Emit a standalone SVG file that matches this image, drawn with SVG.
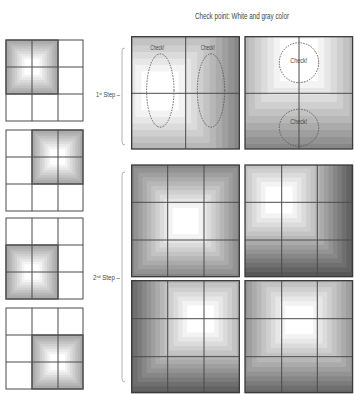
<svg xmlns="http://www.w3.org/2000/svg" width="355" height="394" viewBox="0 0 355 394">
<style>
 .t{font-family:"Liberation Sans",Arial,sans-serif;fill:#444}
 .grid{fill:none;stroke:#4a4a4a;stroke-width:1}
 .frame{fill:none;stroke:#3a3a3a;stroke-width:1.3}
 .sh{fill:none;stroke:#555;stroke-width:1.3}
 .dash{fill:none;stroke:#555;stroke-width:0.9;stroke-dasharray:1.5 1.2}
 .br{fill:none;stroke:#a0a0a0;stroke-width:0.8}
</style>
<defs>
 <g id="bands">
  <rect x="-100" y="-100" width="200" height="200" fill="#404040"/>
  <rect x="-18" y="-18" width="36" height="36" fill="#4b4b4b"/>
  <rect x="-17" y="-17" width="34" height="34" fill="#575757"/>
  <rect x="-16" y="-16" width="32" height="32" fill="#636363"/>
  <rect x="-15" y="-15" width="30" height="30" fill="#6f6f6f"/>
  <rect x="-14" y="-14" width="28" height="28" fill="#7b7b7b"/>
  <rect x="-13" y="-13" width="26" height="26" fill="#878787"/>
  <rect x="-12" y="-12" width="24" height="24" fill="#939393"/>
  <rect x="-11" y="-11" width="22" height="22" fill="#9f9f9f"/>
  <rect x="-10" y="-10" width="20" height="20" fill="#ababab"/>
  <rect x="-9" y="-9" width="18" height="18" fill="#b7b7b7"/>
  <rect x="-8" y="-8" width="16" height="16" fill="#c3c3c3"/>
  <rect x="-7" y="-7" width="14" height="14" fill="#cfcfcf"/>
  <rect x="-6" y="-6" width="12" height="12" fill="#dbdbdb"/>
  <rect x="-5" y="-5" width="10" height="10" fill="#e7e7e7"/>
  <rect x="-4" y="-4" width="8" height="8" fill="#f3f3f3"/>
  <rect x="-3" y="-3" width="6" height="6" fill="#ffffff"/>
 </g>
 <clipPath id="cA"><rect x="131.7" y="36.7" width="107.6" height="112.3"/></clipPath>
 <clipPath id="cB"><rect x="245" y="36.7" width="107.6" height="112.3"/></clipPath>
 <clipPath id="cC"><rect x="131.7" y="165" width="107.6" height="111.7"/></clipPath>
 <clipPath id="cD"><rect x="245" y="165" width="107.6" height="111.7"/></clipPath>
 <clipPath id="cE"><rect x="131.7" y="280.7" width="107.6" height="112"/></clipPath>
 <clipPath id="cF"><rect x="245" y="280.7" width="107.6" height="112"/></clipPath>
 <clipPath id="s1"><rect x="6" y="40" width="52" height="54"/></clipPath>
 <clipPath id="s2"><rect x="32" y="130" width="51" height="54"/></clipPath>
 <clipPath id="s3"><rect x="6" y="245" width="52" height="54"/></clipPath>
 <clipPath id="s4"><rect x="32" y="335" width="51" height="54"/></clipPath>
 <g id="sg">
  <rect x="0" y="0" width="77" height="81" class="grid"/>
  <path d="M26 0V81M52 0V81M0 27H77M0 54H77" class="grid"/>
 </g>
</defs>
<rect width="355" height="394" fill="#fff"/>

<text class="t" x="195" y="19" font-size="8.5" textLength="94" lengthAdjust="spacingAndGlyphs">Check point: White and gray color</text>

<g id="small1">
 <g clip-path="url(#s1)"><use href="#bands" transform="translate(32 67) scale(2.5 2.6)"/></g>
 <use href="#sg" transform="translate(6 40)"/>
 <rect x="6" y="40" width="52" height="54" class="sh"/>
</g>
<g id="small2">
 <g clip-path="url(#s2)"><use href="#bands" transform="translate(57.5 157) scale(2.5 2.6)"/></g>
 <use href="#sg" transform="translate(6 130)"/>
 <rect x="32" y="130" width="51" height="54" class="sh"/>
</g>
<g id="small3">
 <g clip-path="url(#s3)"><use href="#bands" transform="translate(32 272) scale(2.5 2.6)"/></g>
 <use href="#sg" transform="translate(6 218)"/>
 <rect x="6" y="245" width="52" height="54" class="sh"/>
</g>
<g id="small4">
 <g clip-path="url(#s4)"><use href="#bands" transform="translate(57.5 362) scale(2.5 2.6)"/></g>
 <use href="#sg" transform="translate(6 308)"/>
 <rect x="32" y="335" width="51" height="54" class="sh"/>
</g>

<g id="step1">
 <path class="br" d="M125 48Q122 48 122 51V142Q122 145 125 145"/>
 <text class="t" x="96" y="97" font-size="6.5" textLength="24" lengthAdjust="spacingAndGlyphs">1<tspan font-size="4" dy="-2">st</tspan><tspan dy="2"> Step –</tspan></text>
</g>
<g id="step2">
 <path class="br" d="M125 172Q122 172 122 175V379Q122 382 125 382"/>
 <text class="t" x="93" y="280" font-size="6.5" textLength="27" lengthAdjust="spacingAndGlyphs">2<tspan font-size="4" dy="-2">nd</tspan><tspan dy="2"> Step –</tspan></text>
</g>

<g id="panelA">
 <g clip-path="url(#cA)"><use href="#bands" transform="translate(160 91) scale(6.2 6.5)"/></g>
 <path class="grid" d="M185.7 36.7V149M131.7 93.3H239.3"/>
 <rect class="frame" x="131.7" y="36.7" width="107.6" height="112.3"/>
 <ellipse class="dash" cx="160.3" cy="90.5" rx="13.7" ry="36.7"/>
 <ellipse class="dash" cx="211" cy="90.5" rx="13.7" ry="36.7"/>
 <text class="t" x="157.3" y="49.5" font-size="7.5" text-anchor="middle" textLength="14" lengthAdjust="spacingAndGlyphs">Check!</text>
 <text class="t" x="207.7" y="49.5" font-size="7.5" text-anchor="middle" textLength="14" lengthAdjust="spacingAndGlyphs">Check!</text>
</g>
<g id="panelB">
 <g clip-path="url(#cB)"><use href="#bands" transform="translate(299 60) scale(6.3 7)"/></g>
 <path class="grid" d="M299 36.7V149M245 93.3H352.6"/>
 <rect class="frame" x="245" y="36.7" width="107.6" height="112.3"/>
 <ellipse class="dash" cx="299" cy="62.7" rx="19.7" ry="20"/>
 <ellipse class="dash" cx="299" cy="127.7" rx="19.7" ry="18.5"/>
 <text class="t" x="298.7" y="62.5" font-size="7.5" text-anchor="middle" textLength="17" lengthAdjust="spacingAndGlyphs">Check!</text>
 <text class="t" x="298.7" y="123.5" font-size="7.5" text-anchor="middle" textLength="17" lengthAdjust="spacingAndGlyphs">Check!</text>
</g>

<g id="panelC">
 <g clip-path="url(#cC)"><use href="#bands" transform="translate(185.5 221) scale(4.3 4.4)"/></g>
 <path class="grid" d="M167.7 165V276.7M204 165V276.7M131.7 202.3H239.3M131.7 240H239.3"/>
 <rect class="frame" x="131.7" y="165" width="107.6" height="111.7"/>
</g>
<g id="panelD">
 <g clip-path="url(#cD)"><use href="#bands" transform="translate(279 200) scale(4.5 4.5)"/></g>
 <path class="grid" d="M281.7 165V276.7M317.3 165V276.7M245 202.3H352.6M245 240H352.6"/>
 <rect class="frame" x="245" y="165" width="107.6" height="111.7"/>
</g>
<g id="panelE">
 <g clip-path="url(#cE)"><use href="#bands" transform="translate(200.5 319) scale(4.5 4.5)"/></g>
 <path class="grid" d="M167.7 280.7V392.7M204 280.7V392.7M131.7 318.7H239.3M131.7 356.7H239.3"/>
 <rect class="frame" x="131.7" y="280.7" width="107.6" height="112"/>
</g>
<g id="panelF">
 <g clip-path="url(#cF)"><use href="#bands" transform="translate(299 320) scale(4.7 4.7)"/></g>
 <path class="grid" d="M281.7 280.7V392.7M317.3 280.7V392.7M245 318.7H352.6M245 356.7H352.6"/>
 <rect class="frame" x="245" y="280.7" width="107.6" height="112"/>
</g>
</svg>
